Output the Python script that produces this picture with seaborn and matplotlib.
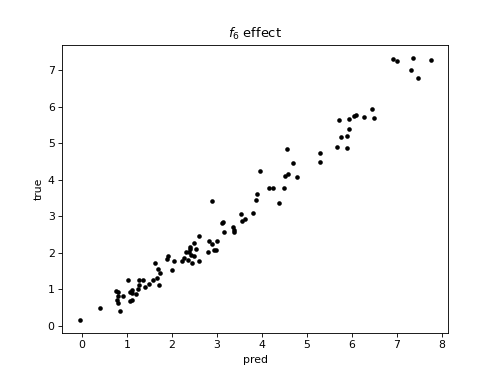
import pandas as pd
import matplotlib.pyplot as plt
import seaborn as sns

# predicted vs true values
pred = [-0.05, 0.39, 0.76, 0.81, 0.78, 0.81, 0.80, 0.84, 0.92, 1.02,
        1.07, 1.07, 1.11, 1.12, 1.10, 1.21, 1.24, 1.27, 1.27, 1.36,
        1.41, 1.48, 1.57, 1.62, 1.67, 1.68, 1.73, 1.72, 1.89, 1.90,
        2.01, 2.04, 2.22, 2.26, 2.31, 2.35, 2.37, 2.39, 2.41, 2.42,
        2.44, 2.50, 2.50, 2.53, 2.59, 2.59, 2.79, 2.83, 2.90, 2.89,
        2.93, 2.98, 3.00, 3.11, 3.13, 3.15, 3.36, 3.37, 3.38, 3.53,
        3.56, 3.63, 3.81, 3.87, 3.90, 3.96, 4.15, 4.24, 4.38, 4.48,
        4.52, 4.58, 4.56, 4.70, 4.78, 5.28, 5.30, 5.66, 5.72, 5.76,
        5.90, 5.90, 5.93, 5.93, 6.04, 6.08, 6.27, 6.44, 6.49, 6.91,
        7.01, 7.36, 7.32, 7.47, 7.75]
true = [0.16, 0.49, 0.96, 0.92, 0.71, 0.80, 0.61, 0.39, 0.80, 1.24,
        0.93, 0.67, 0.69, 0.98, 0.89, 0.87, 1.01, 1.10, 1.24, 1.24,
        1.05, 1.15, 1.26, 1.72, 1.31, 1.54, 1.44, 1.12, 1.83, 1.90,
        1.53, 1.77, 1.76, 1.86, 2.01, 1.81, 2.01, 2.11, 2.15, 1.95,
        1.71, 1.92, 2.27, 2.11, 2.47, 1.77, 2.01, 2.32, 3.41, 2.24,
        2.08, 2.08, 2.31, 2.82, 2.84, 2.58, 2.70, 2.63, 2.56, 3.05,
        2.87, 2.93, 3.10, 3.45, 3.62, 4.23, 3.78, 3.78, 3.36, 3.77,
        4.10, 4.17, 4.83, 4.47, 4.08, 4.73, 4.49, 4.90, 5.63, 5.16,
        4.88, 5.20, 5.38, 5.66, 5.75, 5.78, 5.73, 5.93, 5.68, 7.30,
        7.25, 7.34, 7.00, 6.79, 7.28]

df = pd.DataFrame({"pred": pred, "true": true})

fig = plt.figure(figsize=(498 / 78, 374 / 78), dpi=78)
ax = sns.scatterplot(data=df, x="pred", y="true", color="black", s=18, linewidth=0)
ax.set_title("$f_6$ effect")
ax.set_xlabel("pred")
ax.set_ylabel("true")

plt.savefig("out.png", dpi=78)
